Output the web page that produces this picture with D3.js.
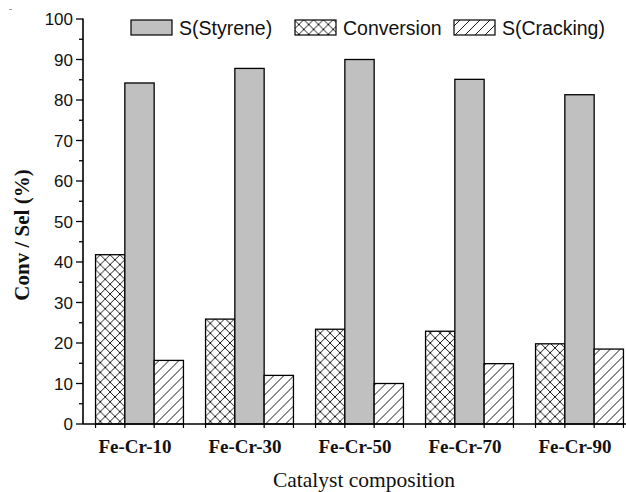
<!DOCTYPE html>
<html>
<head>
<meta charset="utf-8">
<script src="https://cdn.jsdelivr.net/npm/d3@7/dist/d3.min.js"></script>
<style>
  html, body { margin: 0; padding: 0; background: #ffffff; }
  svg { display: block; }
</style>
</head>
<body>
<svg id="chart"></svg>
<script>
// Catalyst samples and the three measured quantities (%)
const catalysts = ['Fe-Cr-10', 'Fe-Cr-30', 'Fe-Cr-50', 'Fe-Cr-70', 'Fe-Cr-90'];
const conversion = [41.8, 25.9, 23.4, 22.9, 19.8];
const styrene = [84.2, 87.8, 90.0, 85.1, 81.3];
const cracking = [15.7, 12.0, 10.0, 14.9, 18.5];
const yTicks = [0, 10, 20, 30, 40, 50, 60, 70, 80, 90, 100];

const WIDTH = 626;
const HEIGHT = 492;
const margin = { left: 83, right: 0, top: 19, bottom: 68 };

const series = [
  { key: 'conv', name: 'Conversion', values: conversion, fill: 'url(#cross)' },
  { key: 'sty', name: 'S(Styrene)', values: styrene, fill: '#c0c0c0' },
  { key: 'crk', name: 'S(Cracking)', values: cracking, fill: 'url(#diag)' }
];
const legendOrder = ['sty', 'conv', 'crk'];

const svg = d3.select('#chart')
  .attr('width', WIDTH)
  .attr('height', HEIGHT);

const defs = svg.append('defs');

const cross = defs.append('pattern')
  .attr('id', 'cross')
  .attr('patternUnits', 'userSpaceOnUse')
  .attr('width', 9.8)
  .attr('height', 9.8);
cross.append('rect').attr('width', 9.8).attr('height', 9.8).attr('fill', '#ffffff');
cross.append('path')
  .attr('d', 'M0,0 L9.8,9.8 M9.8,0 L0,9.8 M-1,1 L1,-1 M8.8,10.8 L10.8,8.8')
  .attr('stroke', '#000').attr('stroke-width', 0.9).attr('fill', 'none');

const diag = defs.append('pattern')
  .attr('id', 'diag')
  .attr('patternUnits', 'userSpaceOnUse')
  .attr('width', 10)
  .attr('height', 10);
diag.append('rect').attr('width', 10).attr('height', 10).attr('fill', '#ffffff');
diag.append('path')
  .attr('d', 'M0,10 L10,0 M-2,2 L2,-2 M8,12 L12,8')
  .attr('stroke', '#000').attr('stroke-width', 0.9).attr('fill', 'none');

// group centres: step 110, bars ~29.3 wide
const groupX = d3.scalePoint()
  .domain(catalysts)
  .range([139.5, 579.5]);
const barW = 29.3;
const x1 = d3.scaleBand()
  .domain(series.map(s => s.key))
  .range([-barW * 1.5, barW * 1.5])
  .padding(0);

const y = d3.scaleLinear()
  .domain([0, 100])
  .range([HEIGHT - margin.bottom, margin.top]);

// stray mark top-left in the original scan
svg.append('line')
  .attr('x1', 9).attr('x2', 12)
  .attr('y1', 9.5).attr('y2', 9.5)
  .attr('stroke', '#999').attr('stroke-width', 1);

// bars
const groups = svg.append('g')
  .selectAll('g')
  .data(catalysts)
  .join('g')
  .attr('transform', d => `translate(${groupX(d)},0)`);

groups.selectAll('rect')
  .data((d, i) => series.map(s => ({ key: s.key, fill: s.fill, v: s.values[i] })))
  .join('rect')
  .attr('x', d => x1(d.key))
  .attr('y', d => y(d.v))
  .attr('width', x1.bandwidth())
  .attr('height', d => y(0) - y(d.v))
  .attr('fill', d => d.fill)
  .attr('stroke', '#000')
  .attr('stroke-width', 1.3);

// y axis
const yAxis = svg.append('g')
  .attr('transform', `translate(${margin.left},0)`);

yAxis.append('line')
  .attr('x1', 0).attr('x2', 0)
  .attr('y1', y(100) - 0.5).attr('y2', y(0))
  .attr('stroke', '#000').attr('stroke-width', 1.6);

d3.range(0, 101, 5).forEach(v => {
  const major = v % 10 === 0;
  yAxis.append('line')
    .attr('x1', major ? -7 : -4).attr('x2', 0)
    .attr('y1', y(v)).attr('y2', y(v))
    .attr('stroke', '#000').attr('stroke-width', 1.3);
});

yAxis.selectAll('text.tick')
  .data(yTicks)
  .join('text')
  .attr('class', 'tick')
  .attr('x', -10)
  .attr('y', d => y(d))
  .attr('dy', '0.36em')
  .attr('text-anchor', 'end')
  .attr('font-family', 'Liberation Sans, Arial, sans-serif')
  .attr('font-size', 17)
  .attr('fill', '#111')
  .text(d => d);

// x axis
const xAxis = svg.append('g');
xAxis.append('line')
  .attr('x1', margin.left).attr('x2', WIDTH)
  .attr('y1', y(0)).attr('y2', y(0))
  .attr('stroke', '#000').attr('stroke-width', 1.6);

catalysts.forEach(c => {
  [-1.5, -0.5, 0.5, 1.5].forEach(k => {
    xAxis.append('line')
      .attr('x1', groupX(c) + k * barW).attr('x2', groupX(c) + k * barW)
      .attr('y1', y(0)).attr('y2', y(0) + 4)
      .attr('stroke', '#000').attr('stroke-width', 1.2);
  });
});

xAxis.selectAll('text.cat')
  .data(catalysts)
  .join('text')
  .attr('class', 'cat')
  .attr('x', d => groupX(d) - 4.5)
  .attr('y', 453)
  .attr('text-anchor', 'middle')
  .attr('font-family', 'Liberation Serif, Times New Roman, serif')
  .attr('font-weight', 700)
  .attr('font-size', 19)
  .attr('fill', '#111')
  .text(d => d);

svg.append('text')
  .attr('x', 364)
  .attr('y', 487)
  .attr('text-anchor', 'middle')
  .attr('font-family', 'Liberation Serif, Times New Roman, serif')
  .attr('font-size', 21.5)
  .attr('fill', '#111')
  .text('Catalyst composition');

svg.append('text')
  .attr('transform', 'translate(29, 235) rotate(-90)')
  .attr('text-anchor', 'middle')
  .attr('font-family', 'Liberation Serif, Times New Roman, serif')
  .attr('font-weight', 700)
  .attr('font-size', 21)
  .attr('fill', '#111')
  .text('Conv / Sel (%)');

// legend
const legendX = [131, 295, 454];
const legend = svg.append('g');
legendOrder.forEach((key, i) => {
  const s = series.find(d => d.key === key);
  legend.append('rect')
    .attr('x', legendX[i]).attr('y', 20)
    .attr('width', 41).attr('height', 15)
    .attr('fill', s.fill)
    .attr('stroke', '#000').attr('stroke-width', 1.2);
  legend.append('text')
    .attr('x', legendX[i] + 48)
    .attr('y', 28)
    .attr('dy', '0.36em')
    .attr('font-family', 'Liberation Sans, Arial, sans-serif')
    .attr('font-size', 19.5)
    .attr('fill', '#111')
    .text(s.name);
});
</script>
</body>
</html>
